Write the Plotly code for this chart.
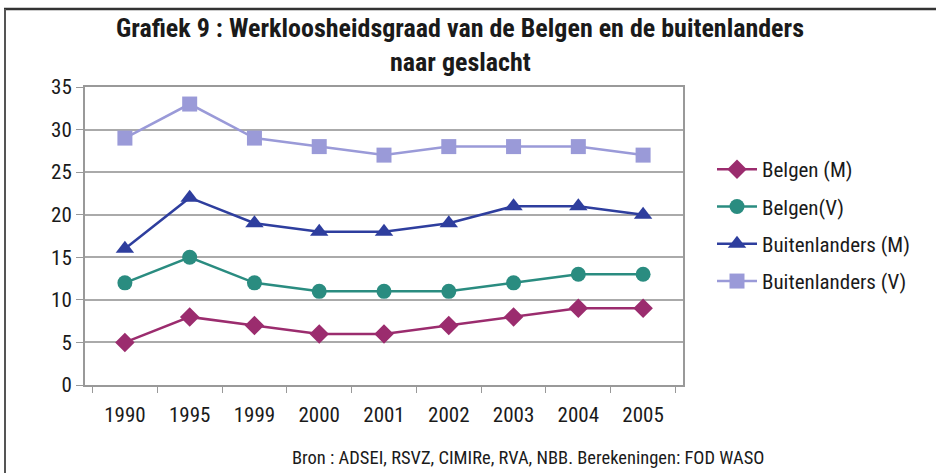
import plotly.graph_objects as go

years = ["1990", "1995", "1999", "2000", "2001", "2002", "2003", "2004", "2005"]
belgen_m = [5, 8, 7, 6, 6, 7, 8, 9, 9]
belgen_v = [12, 15, 12, 11, 11, 11, 12, 13, 13]
buitenlanders_m = [16, 22, 19, 18, 18, 19, 21, 21, 20]
buitenlanders_v = [29, 33, 29, 28, 27, 28, 28, 28, 27]

FONT = "Liberation Sans Narrow, Arial Narrow, Roboto Condensed, Liberation Sans, sans-serif"

series = [
    ("Belgen (M)", belgen_m, "#9b2c6e", "diamond", 15),
    ("Belgen(V)", belgen_v, "#2a8c80", "circle", 15),
    ("Buitenlanders (M)", buitenlanders_m, "#2e3e9e", "triangle-up", 16),
    ("Buitenlanders (V)", buitenlanders_v, "#9a9ad8", "square", 15),
]

fig = go.Figure()
for name, vals, color, sym, size in series:
    fig.add_trace(go.Scatter(
        x=years, y=vals, name=name, mode="lines+markers", legendgroup=name,
        line=dict(color=color, width=2.5),
        marker=dict(symbol=sym, size=size, color=color),
    ))

PW, PH = 598, 298  # plot area size in px
L, T = 85, 87


def px_x(x):
    return (x - L) / PW


def px_y(y):
    return 1 - (y - T) / PH


fig.update_layout(
    width=936, height=473,
    margin=dict(l=L, r=936 - L - PW, t=T, b=473 - T - PH),
    paper_bgcolor="white", plot_bgcolor="white",
    font=dict(family=FONT, color="#1a1a1a", size=21),
    legend=dict(
        x=px_x(712), xanchor="left", y=px_y(149), yanchor="top",
        font=dict(family=FONT, size=21, color="#1a1a1a"),
        tracegroupgap=7, itemwidth=40, bgcolor="rgba(0,0,0,0)",
    ),
    showlegend=True,
)
fig.update_xaxes(
    type="category", showgrid=False, showline=True, linecolor="#999999", linewidth=2,
    mirror=True, ticks="outside", tickson="boundaries", ticklen=6, tickcolor="#999999",
    tickfont=dict(family=FONT, size=21), ticklabelstandoff=10,
)
fig.update_yaxes(
    range=[0, 35], dtick=5, showgrid=True, gridcolor="#aaaaaa", gridwidth=1.5,
    showline=True, linecolor="#999999", linewidth=2, mirror=True,
    ticks="outside", ticklen=7, tickcolor="#999999", zeroline=False,
    tickfont=dict(family=FONT, size=21),
)

# page frame (top and left edges)
fig.add_shape(type="line", xref="paper", yref="paper", x0=px_x(4), x1=px_x(940),
              y0=px_y(9), y1=px_y(9), line=dict(color="#333333", width=2.5))
fig.add_shape(type="line", xref="paper", yref="paper", x0=px_x(5), x1=px_x(5),
              y0=px_y(480), y1=px_y(9), line=dict(color="#555555", width=2))

# two-line title
for text, y in [("Grafiek 9 : Werkloosheidsgraad van de Belgen en de buitenlanders", 28),
                ("naar geslacht", 62)]:
    fig.add_annotation(
        text=f"<b>{text}</b>", xref="paper", yref="paper", x=px_x(460), y=px_y(y),
        xanchor="center", yanchor="middle", showarrow=False,
        font=dict(family=FONT, size=26, color="#1a1a1a"),
    )

fig.add_annotation(
    text="Bron : ADSEI, RSVZ, CIMIRe, RVA, NBB. Berekeningen: FOD WASO",
    xref="paper", yref="paper", x=px_x(528), y=px_y(458),
    xanchor="center", yanchor="middle", showarrow=False,
    font=dict(family=FONT, size=18.5, color="#1a1a1a"),
)

fig.write_html("out.html")
